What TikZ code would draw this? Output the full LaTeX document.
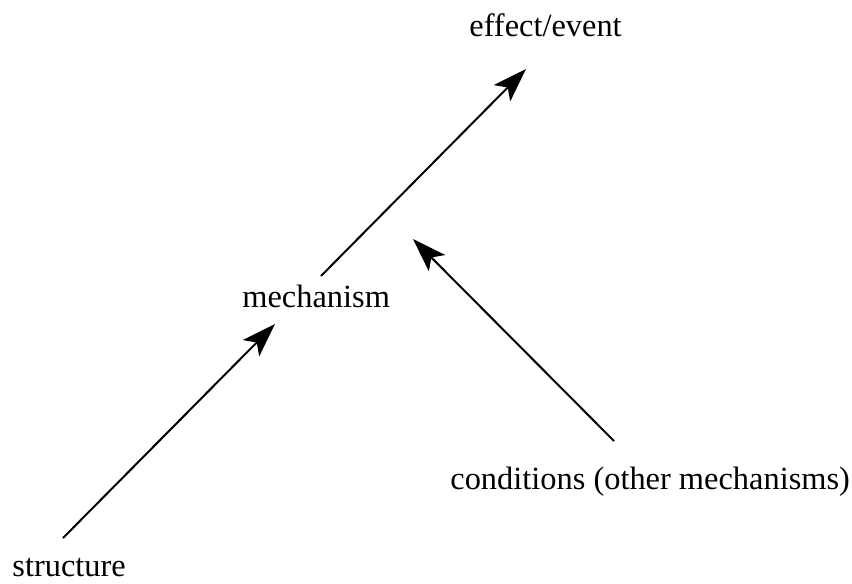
\documentclass[tikz,border=0pt]{standalone}
\usepackage{fontspec}
\setmainfont{Liberation Serif}
\usetikzlibrary{arrows.meta}

\begin{document}
\begin{tikzpicture}[x=0.5pt, y=-0.5pt, every node/.style={font=\fontsize{16.2}{19}\selectfont, inner sep=0pt, anchor=base west}, causal/.style={-{Stealth[length=17pt, width=11.5pt, inset=4pt]}, line width=1pt}]
\useasboundingbox (0,0) rectangle (852,584);
\node (effect) at (469,36) {effect/event};
\node (mech) at (242,307) {mechanism};
\node (struct) at (12,576) {structure};
\node (cond) at (450,489) {conditions (other mechanisms)};
\draw[causal] ([shift={(51,-38)}]struct.base west) -- ([shift={(33,17)}]mech.base west);
\draw[causal] ([shift={(79,-31)}]mech.base west) -- ([shift={(57,33)}]effect.base west);
\draw[causal] ([shift={(164,-48)}]cond.base west) -- ([shift={(171,-68)}]mech.base west);
\end{tikzpicture}
\end{document}
